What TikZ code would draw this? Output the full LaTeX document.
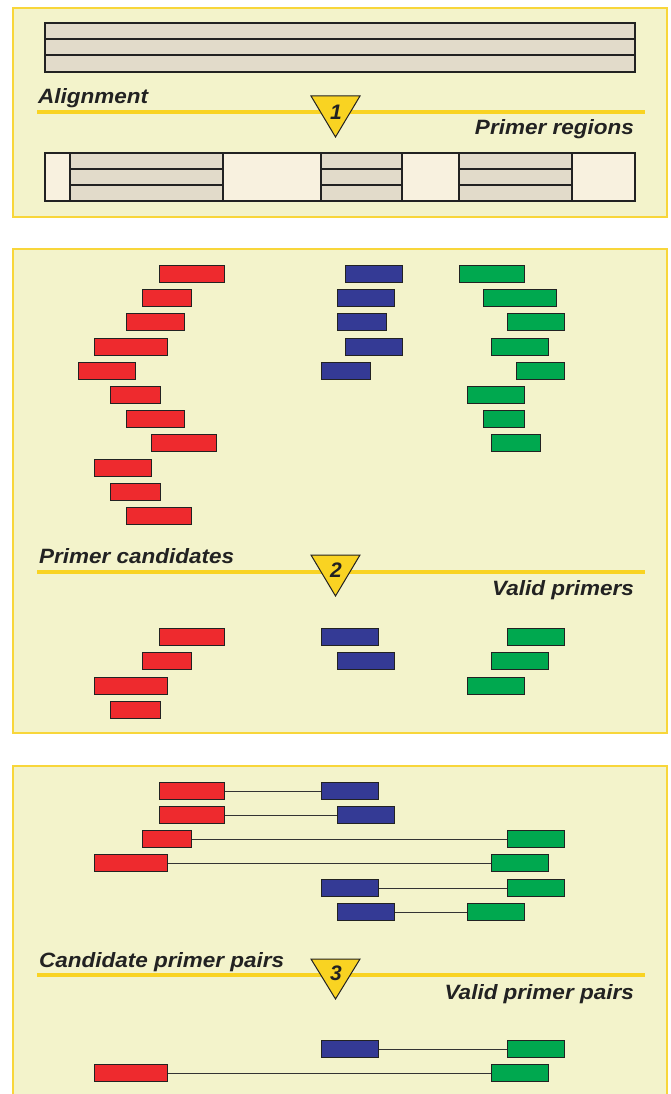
\documentclass[tikz,border=0pt]{standalone}
\usepackage{fontspec}
\setmainfont{Liberation Sans}
\definecolor{panelbg}{HTML}{F3F3CB}
\definecolor{panelbd}{HTML}{F8D63A}
\definecolor{hl}{HTML}{F9D322}
\definecolor{grayc}{HTML}{E2DBCA}
\definecolor{lightc}{HTML}{F8F1DF}
\definecolor{redc}{HTML}{EE2A2E}
\definecolor{bluec}{HTML}{343A95}
\definecolor{greenc}{HTML}{00A84F}
\definecolor{boxline}{HTML}{222222}
\definecolor{txt}{HTML}{222222}
\definecolor{linkc}{HTML}{333333}
\newcommand\lb[1]{\scalebox{1}[0.92]{#1}}
\begin{document}
\begin{tikzpicture}[x=1pt,y=-1pt,
  panel/.style={fill=panelbg,draw=panelbd,line width=1.6pt},
  hline/.style={draw=hl,line width=4pt},
  tri/.style={fill=hl,draw=boxline,line width=1pt,line join=miter},
  cellg/.style={fill=grayc,draw=boxline,line width=1.1pt},
  celll/.style={fill=lightc,draw=boxline,line width=1.1pt},
  pbox/.style={anchor=north west,inner sep=0pt,minimum height=17pt,draw=boxline,line width=1.4pt},
  rbox/.style={pbox,fill=redc},
  bbox/.style={pbox,fill=bluec},
  gbox/.style={pbox,fill=greenc},
  lbl/.style={font=\fontsize{22.5}{22.5}\selectfont\bfseries\itshape,text=txt,inner sep=0pt},
  num/.style={font=\fontsize{21}{21}\selectfont\bfseries\itshape,text=txt,inner sep=0pt},
  link/.style={draw=linkc,line width=1.1pt}
]
\useasboundingbox (0,0) rectangle (671,1094);
\clip (0,0) rectangle (671,1094);

% ---------- panel 1 ----------
\draw[panel] (13,8) rectangle (667,217);
\draw[cellg] (45,23) rectangle (635,39);
\draw[cellg] (45,39) rectangle (635,55);
\draw[cellg] (45,55) rectangle (635,72);
\node[lbl,anchor=base west] (t1a) at (38,104) {\lb{Alignment}};
\draw[hline] (37,112) -- (645,112);
\draw[tri] (311,96) -- (360,96) -- (335.5,137) -- cycle;
\node[num] (n1) at (336,112) {1};
\node[lbl,anchor=base east] (t1b) at (634,135) {\lb{Primer regions}};
% region block
\draw[celll] (45,153) rectangle (70,201);
\draw[cellg] (70,153) rectangle (223,169);
\draw[cellg] (70,169) rectangle (223,185);
\draw[cellg] (70,185) rectangle (223,201);
\draw[celll] (223,153) rectangle (321,201);
\draw[cellg] (321,153) rectangle (402,169);
\draw[cellg] (321,169) rectangle (402,185);
\draw[cellg] (321,185) rectangle (402,201);
\draw[celll] (402,153) rectangle (459,201);
\draw[cellg] (459,153) rectangle (572,169);
\draw[cellg] (459,169) rectangle (572,185);
\draw[cellg] (459,185) rectangle (572,201);
\draw[celll] (572,153) rectangle (635,201);

% ---------- panel 2 ----------
\draw[panel] (13,249) rectangle (667,733);
\node[rbox,minimum width=65pt] (r1) at (159,265) {};
\node[rbox,minimum width=49pt] (r2) at (142,289) {};
\node[rbox,minimum width=58pt] (r3) at (126,313) {};
\node[rbox,minimum width=73pt] (r4) at (94,338) {};
\node[rbox,minimum width=57pt] (r5) at (78,362) {};
\node[rbox,minimum width=50pt] (r6) at (110,386) {};
\node[rbox,minimum width=58pt] (r7) at (126,410) {};
\node[rbox,minimum width=65pt] (r8) at (151,434) {};
\node[rbox,minimum width=57pt] (r9) at (94,459) {};
\node[rbox,minimum width=50pt] (r10) at (110,483) {};
\node[rbox,minimum width=65pt] (r11) at (126,507) {};
\node[bbox,minimum width=57pt] (b1) at (345,265) {};
\node[bbox,minimum width=57pt] (b2) at (337,289) {};
\node[bbox,minimum width=49pt] (b3) at (337,313) {};
\node[bbox,minimum width=57pt] (b4) at (345,338) {};
\node[bbox,minimum width=49pt] (b5) at (321,362) {};
\node[gbox,minimum width=65pt] (g1) at (459,265) {};
\node[gbox,minimum width=73pt] (g2) at (483,289) {};
\node[gbox,minimum width=57pt] (g3) at (507,313) {};
\node[gbox,minimum width=57pt] (g4) at (491,338) {};
\node[gbox,minimum width=48pt] (g5) at (516,362) {};
\node[gbox,minimum width=57pt] (g6) at (467,386) {};
\node[gbox,minimum width=41pt] (g7) at (483,410) {};
\node[gbox,minimum width=49pt] (g8) at (491,434) {};

\node[lbl,anchor=base west] (t2a) at (39,563) {\lb{Primer candidates}};
\draw[hline] (37,572) -- (645,572);
\draw[tri] (311,555) -- (360,555) -- (335.5,596) -- cycle;
\node[num] (n2) at (336,570) {2};
\node[lbl,anchor=base east] (t2b) at (634,595) {\lb{Valid primers}};

\node[rbox,minimum width=65pt] (vr1) at (159,628) {};
\node[rbox,minimum width=49pt] (vr2) at (142,652) {};
\node[rbox,minimum width=73pt] (vr3) at (94,677) {};
\node[rbox,minimum width=50pt] (vr4) at (110,701) {};
\node[bbox,minimum width=57pt] (vb1) at (321,628) {};
\node[bbox,minimum width=57pt] (vb2) at (337,652) {};
\node[gbox,minimum width=57pt] (vg1) at (507,628) {};
\node[gbox,minimum width=57pt] (vg2) at (491,652) {};
\node[gbox,minimum width=57pt] (vg3) at (467,677) {};

% ---------- panel 3 ----------
\draw[panel] (13,766) rectangle (667,1110);
\node[rbox,minimum width=65pt] (pr1) at (159,782) {};
\node[bbox,minimum width=57pt] (pb1) at (321,782) {};
\node[rbox,minimum width=65pt] (pr2) at (159,806) {};
\node[bbox,minimum width=57pt] (pb2) at (337,806) {};
\node[rbox,minimum width=49pt] (pr3) at (142,830) {};
\node[gbox,minimum width=57pt] (pg3) at (507,830) {};
\node[rbox,minimum width=73pt] (pr4) at (94,854) {};
\node[gbox,minimum width=57pt] (pg4) at (491,854) {};
\node[bbox,minimum width=57pt] (pb5) at (321,879) {};
\node[gbox,minimum width=57pt] (pg5) at (507,879) {};
\node[bbox,minimum width=57pt] (pb6) at (337,903) {};
\node[gbox,minimum width=57pt] (pg6) at (467,903) {};
\draw[link] (pr1) -- (pb1);
\draw[link] (pr2) -- (pb2);
\draw[link] (pr3) -- (pg3);
\draw[link] (pr4) -- (pg4);
\draw[link] (pb5) -- (pg5);
\draw[link] (pb6) -- (pg6);

\node[lbl,anchor=base west] (t3a) at (39,967) {\lb{Candidate primer pairs}};
\draw[hline] (37,975) -- (645,975);
\draw[tri] (311,959) -- (360,959) -- (335.5,999) -- cycle;
\node[num] (n3) at (336,973) {3};
\node[lbl,anchor=base east] (t3b) at (634,999) {\lb{Valid primer pairs}};

\node[bbox,minimum width=57pt] (fb1) at (321,1040) {};
\node[gbox,minimum width=57pt] (fg1) at (507,1040) {};
\node[rbox,minimum width=73pt] (fr2) at (94,1064) {};
\node[gbox,minimum width=57pt] (fg2) at (491,1064) {};
\draw[link] (fb1) -- (fg1);
\draw[link] (fr2) -- (fg2);
\end{tikzpicture}
\end{document}
